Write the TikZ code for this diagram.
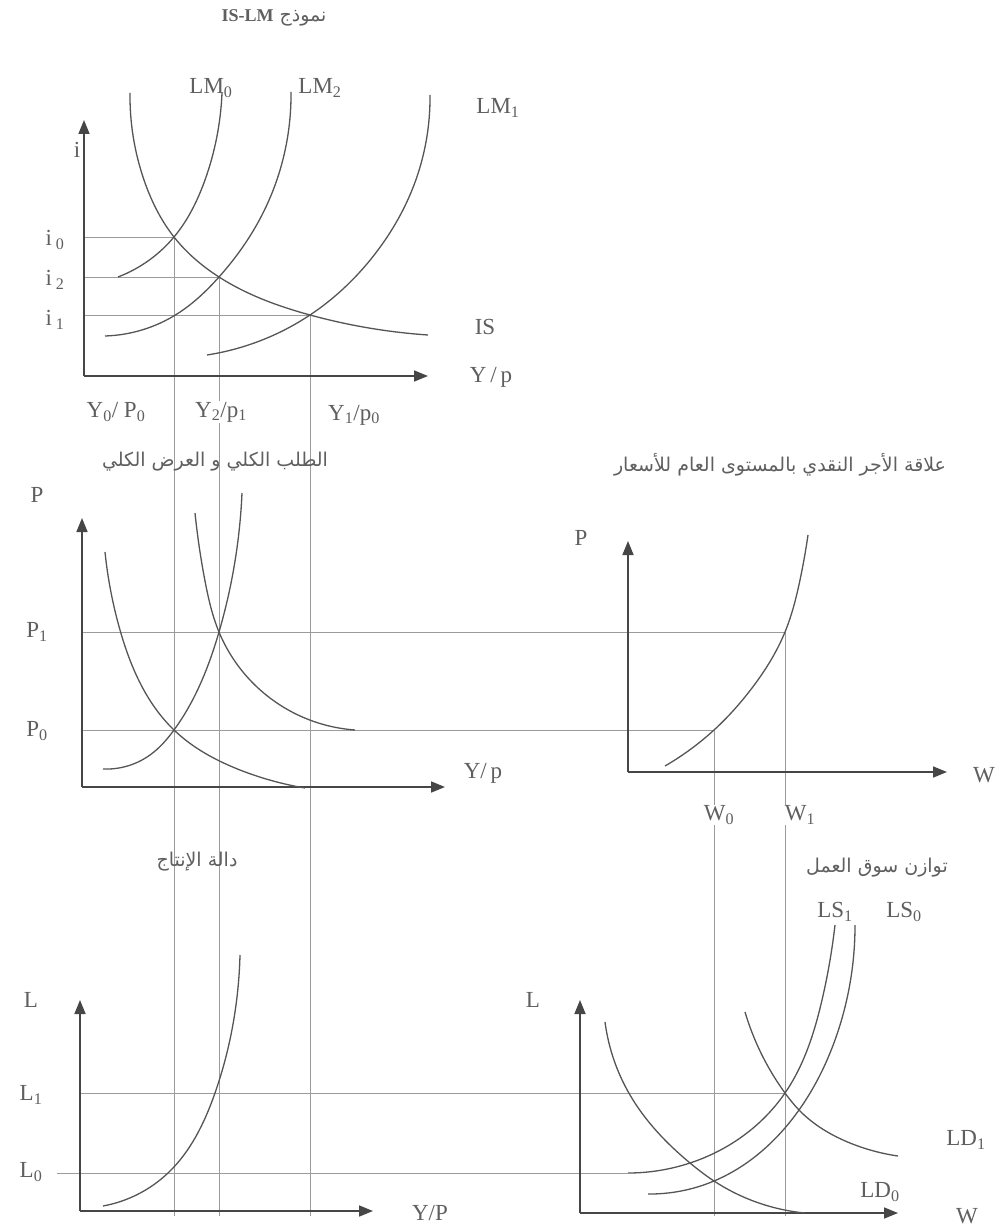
\documentclass[tikz,border=0pt]{standalone}
\usepackage{fontspec}
\usepackage{tikz}
\usetikzlibrary{arrows.meta, hobby}
\setmainfont{Liberation Serif}
\newfontfamily\arabicfont[Script=Arabic]{DejaVu Sans}
\TeXXeTstate=1
\definecolor{cAxis}{RGB}{70,70,70}
\definecolor{cCurve}{RGB}{85,85,85}
\definecolor{cGuide}{RGB}{155,155,155}
\definecolor{cText}{RGB}{95,95,95}
\tikzset{
	axis/.style ={draw=cAxis, line width=1.6pt, -{Triangle[length=14pt,width=11pt]}},
	curve/.style={draw=cCurve, line width=1.3pt, use Hobby shortcut},
	guide/.style={draw=cGuide, line width=0.8pt},
	lbl/.style  ={text=cText, font=\fontsize{23}{23}\selectfont, inner sep=1pt},
	mask/.style ={lbl, fill=white},
	ttl/.style  ={text=cText, font=\arabicfont\fontsize{19}{19}\selectfont},
}
\begin{document}
\begin{tikzpicture}[x=1pt, y=-1pt]
	\useasboundingbox[fill=white] (0,0) rectangle (1000,1230);
	% guide lines linking the four panels
	\foreach \y/\x in {237/174, 277/219, 315/310} \draw[guide] (84,\y) -- (\x,\y) -- (\x,1216);
	\draw[guide] (82,632) -- (785,632) -- (785,1216);
	\draw[guide] (82,730) -- (714,730) -- (714,1216);
	\draw[guide] (80,1093) -- (785,1093);
	\draw[guide] (57,1173) -- (628,1173);
	% IS-LM
	\coordinate (o1) at (84,376);
	\draw[axis] (o1) -- (84,120);
	\draw[axis] (o1) -- (428,376);
	\draw[curve] (130,93) .. (144,180) .. (174,237) .. (219,277) .. (310,315) .. (428,335);
	\draw[curve] (118,277) .. (174,237) .. (205,180) .. (222,93);
	\draw[curve] (105,336) .. (177,314) .. (219,277) .. (262,215) .. (291,92);
	\draw[curve] (207,355) .. (310,315) .. (378,250) .. (414,185) .. (430,95);
	\node[ttl] (t1) at (274,18) {\beginR نموذج {\normalfont\bfseries\fontsize{18}{18}\selectfont\beginL IS-LM\endL}\endR};
	\node[lbl] (lm0) at (211,88) {LM\textsubscript{0}};
	\node[lbl] (lm2) at (320,88) {LM\textsubscript{2}};
	\node[lbl] (lm1) at (498,108) {LM\textsubscript{1}};
	\node[lbl] (ii) at (77,150) {i};
	\node[lbl] (i0) at (55,240) {i\,\textsubscript{0}};
	\node[lbl] (i2) at (55,280) {i\,\textsubscript{2}};
	\node[lbl] (i1) at (55,320) {i\,\textsubscript{1}};
	\node[lbl] (is) at (485,327) {IS};
	\node[lbl] (yp1) at (491,377) {Y\,/\,p};
	\node[mask] (y0) at (116,412) {Y\textsubscript{0}/ P\textsubscript{0}};
	\node[mask] (y2) at (221,412) {Y\textsubscript{2}/p\textsubscript{1}};
	\node[mask] (y1) at (354,415) {Y\textsubscript{1}/p\textsubscript{0}};
	% aggregate demand and supply
	\coordinate (o2) at (82,787);
	\draw[axis] (o2) -- (82,518);
	\draw[axis] (o2) -- (445,787);
	\draw[curve] (105,552) .. (120,630) .. (174,730) .. (240,770) .. (305,788);
	\draw[curve] (103,769) .. (150,755) .. (174,730) .. (219,632) .. (242,493);
	\draw[curve] (195,513) .. (205,581) .. (219,632) .. (280,705) .. (355,730);
	\node[ttl] (t2) at (215,462) {\beginR الطلب الكلي و العرض الكلي\endR};
	\node[lbl] (pp) at (37,495) {P};
	\node[lbl] (p1) at (37,632) {P\textsubscript{1}};
	\node[lbl] (p0) at (37,731) {P\textsubscript{0}};
	\node[lbl] (yp2) at (483,773) {Y/\,p};
	% money wage and price level
	\coordinate (o3) at (628,772);
	\draw[axis] (o3) -- (628,541);
	\draw[axis] (o3) -- (947,772);
	\draw[curve] (665,766) .. (714,730) .. (752,688) .. (785,632) .. (800,580) .. (808,535);
	\node[ttl] (t3) at (780,465) {\beginR علاقة الأجر النقدي بالمستوى العام للأسعار\endR};
	\node[lbl] (pw) at (581,538) {P};
	\node[lbl] (w) at (984,775) {W};
	\node[mask] (w0) at (719,815) {W\textsubscript{0}};
	\node[mask] (w1) at (800,815) {W\textsubscript{1}};
	% production function
	\coordinate (o4) at (80,1211);
	\draw[axis] (o4) -- (80,1000);
	\draw[axis] (o4) -- (373,1211);
	\draw[curve] (103,1206) .. (168,1173) .. (215,1093) .. (236,1005) .. (240,955);
	\node[ttl] (t4) at (197,862) {\beginR دالة الإنتاج\endR};
	\node[lbl] (lp) at (31,1000) {L};
	\node[lbl] (l1) at (31,1095) {L\textsubscript{1}};
	\node[lbl] (l0) at (31,1172) {L\textsubscript{0}};
	\node[lbl] (ypl) at (430,1213) {Y/P};
	% labour market
	\coordinate (o5) at (580,1213);
	\draw[axis] (o5) -- (580,1000);
	\draw[axis] (o5) -- (898,1213);
	\draw[curve] (605,1022) .. (630,1095) .. (690,1163) .. (714,1181) .. (805,1213);
	\draw[curve] (745,1012) .. (785,1093) .. (799,1110) .. (850,1143) .. (898,1156);
	\draw[curve] (628,1173) .. (690,1163) .. (785,1093) .. (822,1000) .. (835,925);
	\draw[curve] (648,1194) .. (714,1181) .. (799,1110) .. (835,1040) .. (855,925);
	\node[ttl] (t5) at (877,868) {\beginR توازن سوق العمل\endR};
	\node[lbl] (ls1) at (835,912) {LS\textsubscript{1}};
	\node[lbl] (ls0) at (904,912) {LS\textsubscript{0}};
	\node[lbl] (ld1) at (966,1140) {LD\textsubscript{1}};
	\node[lbl] (ld0) at (880,1192) {LD\textsubscript{0}};
	\node[lbl] (ll) at (533,1000) {L};
	\node[lbl] (wl) at (967,1216) {W};
\end{tikzpicture}
\end{document}
